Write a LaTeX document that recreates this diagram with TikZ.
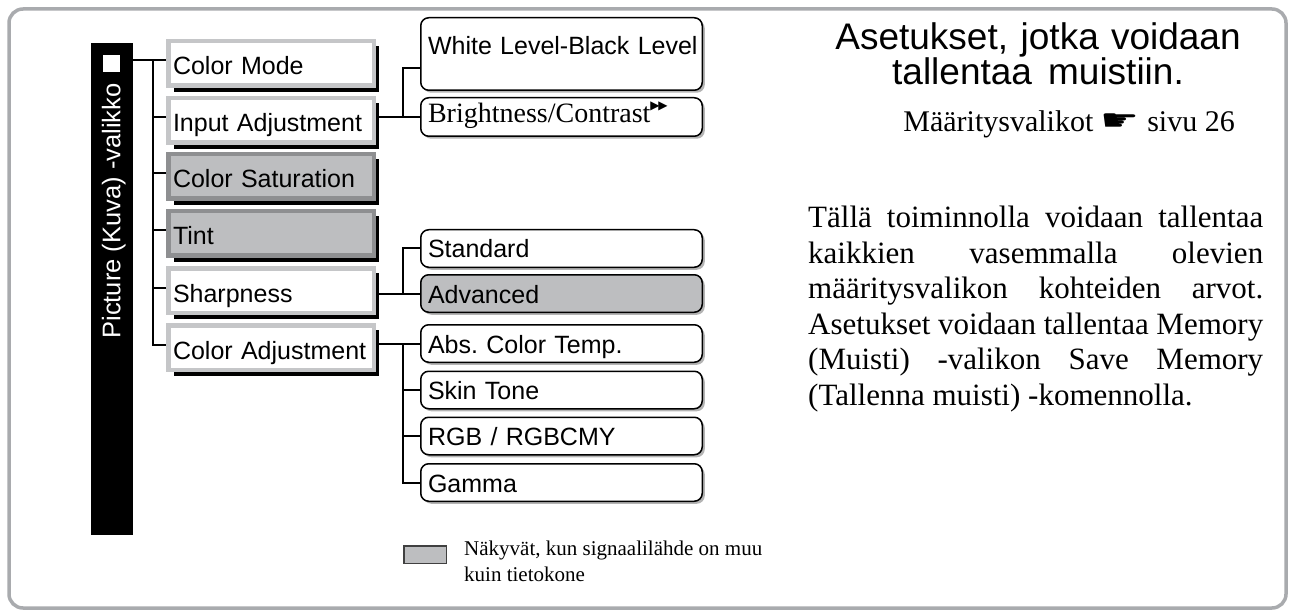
\documentclass[tikz,border=0pt]{standalone}
\usepackage{graphicx}
\usepackage{fontspec}
\setmainfont{Liberation Serif}
\setsansfont{Liberation Sans}
\newfontfamily\dejavu{DejaVu Sans}
\usetikzlibrary{calc,shadows,backgrounds}
\definecolor{lgray}{HTML}{C5C6C8}
\definecolor{dgray}{HTML}{8E8F91}
\definecolor{mgray}{HTML}{BDBEC0}
\definecolor{framec}{HTML}{A9ABAE}
\definecolor{shadc}{HTML}{B4B4B4}
\newcommand\fsz[2]{\fontsize{#1}{#2}\selectfont}
\newcommand\jline[1]{\makebox[455pt][l]{#1}}
\begin{document}
\begin{tikzpicture}[x=1pt,y=-1pt,
  conn/.style={line width=2pt, black},
  lbox/.style={rectangle, draw=lgray, fill=white, line width=4.5pt, anchor=north west,
     minimum width=205.5pt, minimum height=44.5pt, text width=196pt, inner xsep=4.75pt, inner ysep=0pt,
     align=left, font=\sffamily\fsz{25}{30}, text height=23pt, text depth=0pt},
  lboxg/.style={lbox, draw=dgray, fill=mgray},
  rbox/.style={rectangle, rounded corners=8pt, draw=black, fill=white, line width=1.5pt, anchor=north west,
     minimum width=281.5pt, minimum height=37.5pt, text width=267pt, inner xsep=7.25pt, inner ysep=0pt,
     align=left, font=\sffamily\fsz{25}{30}, text height=19pt, text depth=0pt,
     drop shadow={shadow xshift=2.5pt, shadow yshift=-2.5pt, fill=shadc, opacity=1}},
  rboxg/.style={rbox, fill=mgray},
  lshadow/.style={fill=black},
]
\useasboundingbox (0,0) rectangle (1292,612);
% outer frame
\draw[framec, line width=3.5pt, rounded corners=14pt] (9,9) rectangle (1286,608);

% vertical menu bar
\node[fill=black, minimum width=42pt, minimum height=492pt, inner sep=0, anchor=north west] (bar) at (91,43) {};
\node[fill=white, minimum size=17.5pt, inner sep=0] (sq) at (111.5,63.5) {};
\node[rotate=90, text=white, font=\sffamily\fsz{25.5}{30}, text height=18.5pt, text depth=0pt, inner sep=0] (bartext) at (111,211) {Picture (Kuva) -valikko};

% first level boxes
\node[lbox] (cm) at (166,39) {Color Mode};
\node[lbox] (ia) at (166,96) {Input Adjustment};
\node[lboxg] (cs) at (166,152) {Color Saturation};
\node[lboxg] (ti) at (166,209) {Tint};
\node[lbox] (sh) at (166,266) {Sharpness};
\node[lbox] (ca) at (166,323) {Color Adjustment};

\begin{scope}[on background layer]
\foreach \n in {cm,ia,cs,ti,sh,ca}
  \fill[lshadow] ($(\n.south west)+(8,4)$) rectangle ($(\n.north east)+(3,7)$);
\end{scope}

% second level boxes
\node[rbox, minimum height=72.5pt, text height=31pt, text depth=29.5pt] (wl) at (420,17) {\mbox{White Level-Black Level}};
\node[rbox, minimum height=38.5pt, font=\rmfamily\fsz{28}{32}, text height=12pt] (bc) at (420,97) {\mbox{Brightness/Contrast\raisebox{13.5pt}{\dejavu\fsz{12}{12}▶\kern-1.2pt▶}}};
\node[rbox] (std) at (420,229) {Standard};
\node[rboxg] (adv) at (420,274) {Advanced};
\node[rbox] (abs) at (420,324) {Abs.\ Color Temp.};
\node[rbox] (skin) at (420,370.5) {Skin Tone};
\node[rbox] (rgb) at (420,416.5) {RGB / RGBCMY};
\node[rbox] (gam) at (420,463) {Gamma};

% first level connectors
\coordinate (tr) at (153,60.5);
\draw[conn] (bar.east |- tr) -- ([yshift=3pt]cm.west);
\draw[conn] (tr) |- ([yshift=3pt]ca.west);
\foreach \n in {ia,cs,ti,sh}
  \draw[conn] ([yshift=3pt]\n.west) -- +(-13,0);

% second level connectors
\coordinate (j1) at (403,117);
\draw[conn] ([xshift=3pt]ia.east |- bc.west) -- (bc.west);
\draw[conn] ([yshift=-14pt]wl.west) -| (j1);

\coordinate (j2) at (403,293.5);
\draw[conn] ([xshift=3pt]sh.east |- adv.west) -- (adv.west);
\draw[conn] (std.west) -| (j2);

\coordinate (j3) at (403,343.5);
\draw[conn] ([xshift=3pt]ca.east |- abs.west) -- (abs.west);
\draw[conn] (j3) |- (gam.west);
\draw[conn] (skin.west) -- (skin.west -| j3);
\draw[conn] (rgb.west) -- (rgb.west -| j3);

% legend
\node[fill=mgray, draw=black!75, line width=1.5pt, minimum width=42.5pt, minimum height=17.5pt, inner sep=0, anchor=north west] (leg) at (403,545) {};
\node[anchor=base west, text width=400pt, align=left, inner sep=0, font=\rmfamily\fsz{21}{26}] (legt) at (464,555) {\spaceskip=0pt\relax Näkyvät, kun signaalilähde on muu\\kuin tietokone};

% right column
\node[anchor=base, text width=460pt, align=center, inner sep=0, font=\sffamily\fsz{37}{35}] (title) at (1038,50) {\spaceskip=0pt\relax Asetukset, jotka voidaan\\tallentaa muistiin.};
\node[anchor=base east, inner sep=0, font=\rmfamily\fsz{30}{34}] (ref) at (1235,132) {Määritysvalikot \raisebox{1pt}{\scalebox{1.55}[1.05]{\dejavu\fsz{28}{28}☛}} sivu 26};
\node[anchor=base west, text width=455pt, align=left, inner sep=0, font=\rmfamily\fsz{31}{35.5}] (para) at (808,228) {%
\spaceskip=0pt\xspaceskip=0pt\relax
\jline{Tällä\hfill toiminnolla\hfill voidaan\hfill tallentaa}\\
\jline{kaikkien\hfill vasemmalla\hfill olevien}\\
\jline{määritysvalikon\hfill kohteiden\hfill arvot.}\\
\jline{Asetukset\hfill voidaan\hfill tallentaa\hfill Memory}\\
\jline{(Muisti)\hfill -valikon\hfill Save\hfill Memory}\\
(Tallenna muisti) -komennolla.};
\end{tikzpicture}
\end{document}
